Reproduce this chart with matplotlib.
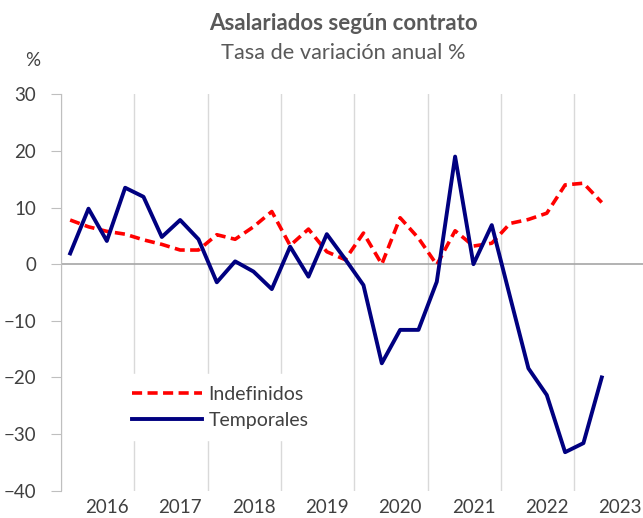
import numpy as np
import matplotlib
matplotlib.use("Agg")
import matplotlib.pyplot as plt

plt.rcParams['font.family'] = ['Lato', 'DejaVu Sans']

# quarterly data, 2016 Q1 .. 2023 Q2 (labels sit on the 3rd quarter slot)
years = ['2016', '2017', '2018', '2019', '2020', '2021', '2022', '2023']
indefinidos = [7.8, 6.6, 5.8, 5.3, 4.3, 3.5, 2.5, 2.5, 5.2, 4.4, 6.6, 9.3,
               3.3, 6.2, 2.2, 0.8, 5.5, 0.0, 8.2, 4.6, -0.1, 5.9, 3.2, 3.7,
               7.2, 7.9, 9.0, 14.0, 14.3, 10.9]
temporales = [1.9, 9.8, 4.1, 13.5, 11.9, 4.8, 7.8, 4.4, -3.2, 0.5, -1.3, -4.4,
              3.1, -2.2, 5.3, 0.9, -3.7, -17.5, -11.6, -11.6, -3.1, 19.0, 0.0, 6.9,
              -5.8, -18.4, -23.1, -33.2, -31.6, -20.0]

txt = '#404040'
x = np.arange(len(indefinidos))

fig = plt.figure(figsize=(6.43, 5.18), dpi=100)
ax = fig.add_axes([61 / 643, 27.3 / 518, 582 / 643, 396.4 / 518])

# vertical year separators
for k in range(len(years)):
    ax.axvline(-0.5 + 4 * k, color='#d9d9d9', lw=1, zorder=0)
ax.axhline(0, color='#a6a6a6', lw=1.2, zorder=1)

ax.plot(x, indefinidos, color='#ff0000', lw=2.6, dashes=(2.8, 1.5),
        label='Indefinidos', zorder=3)
ax.plot(x, temporales, color='#000080', lw=2.8, label='Temporales', zorder=4)

ax.set_xlim(-0.5, 31.25)
ax.set_ylim(-40, 30)
ax.set_yticks(range(-40, 31, 10))
ax.set_xticks([2 + 4 * k for k in range(len(years))])
ax.set_xticklabels(years)

for s in ['top', 'right', 'bottom']:
    ax.spines[s].set_visible(False)
ax.spines['left'].set_color('#bfbfbf')
ax.tick_params(axis='y', length=7, color='#bfbfbf', labelsize=13.5,
               labelcolor=txt, pad=11)
ax.tick_params(axis='x', length=0, labelsize=13.5, labelcolor=txt, pad=6)

leg = ax.legend(loc='upper left', bbox_to_anchor=(0.085, 0.318), frameon=True,
                fontsize=14, handlelength=3.6, handletextpad=0.35,
                labelspacing=0.45, borderpad=0.6)
leg.get_frame().set_facecolor('white')
leg.get_frame().set_edgecolor('white')
leg.get_frame().set_alpha(1)
for t in leg.get_texts():
    t.set_color(txt)

fig.text(343 / 643, 1 - 24 / 518, 'Asalariados según contrato', ha='center',
         va='center', fontsize=16, fontweight='bold', color='#595959')
fig.text(343 / 643, 1 - 53 / 518, 'Tasa de variación anual %', ha='center',
         va='center', fontsize=15.7, color='#595959')
fig.text(33 / 643, 1 - 60 / 518, '%', ha='center', va='center',
         fontsize=13.5, color=txt)

fig.savefig('out.png', dpi=100)
